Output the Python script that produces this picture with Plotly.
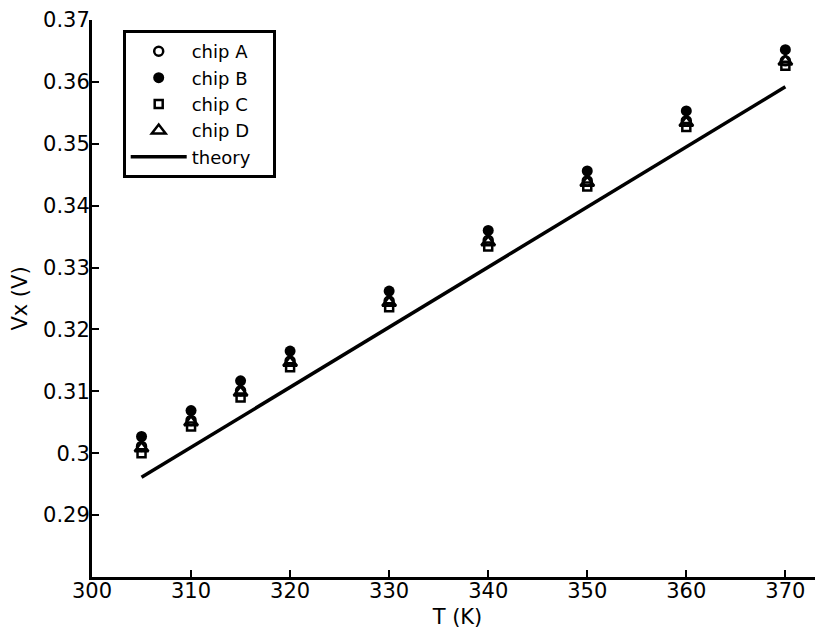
import plotly.graph_objects as go

T = [305, 310, 315, 320, 330, 340, 350, 360, 370]
chip_A = [0.3011, 0.3053, 0.3101, 0.3149, 0.3246, 0.3344, 0.3440, 0.3537, 0.3634]
chip_B = [0.3027, 0.3069, 0.3117, 0.3165, 0.3262, 0.3360, 0.3456, 0.3553, 0.3652]
chip_C = [0.3000, 0.3043, 0.3090, 0.3139, 0.3236, 0.3334, 0.3431, 0.3527, 0.3626]
chip_D = [0.3008, 0.3050, 0.3098, 0.3146, 0.3243, 0.3341, 0.3437, 0.3534, 0.3633]
T_theory = [305, 370]
V_theory = [0.2961, 0.3592]

x_ticks = [300, 310, 320, 330, 340, 350, 360, 370]
y_ticks = [0.29, 0.30, 0.31, 0.32, 0.33, 0.34, 0.35, 0.36, 0.37]
y_tick_text = ["0.29", "0.3", "0.31", "0.32", "0.33", "0.34", "0.35", "0.36", "0.37"]
series_names = ["chip A", "chip B", "chip C", "chip D", "theory"]

FONT = "DejaVu Sans, Liberation Sans, Arial, sans-serif"
FS = 21
PAD = "\u00a0\u00a0\u00a0"

fig = go.Figure()
fig.add_trace(go.Scatter(x=T, y=chip_A, mode="markers", name=series_names[0] + PAD,
                         marker=dict(symbol="circle-open", size=9, color="black",
                                     line=dict(width=2.5, color="black"))))
fig.add_trace(go.Scatter(x=T, y=chip_B, mode="markers", name=series_names[1] + PAD,
                         marker=dict(symbol="circle", size=11, color="black")))
fig.add_trace(go.Scatter(x=T, y=chip_C, mode="markers", name=series_names[2] + PAD,
                         marker=dict(symbol="square-open", size=8, color="black",
                                     line=dict(width=2.5, color="black"))))
fig.add_trace(go.Scatter(x=T, y=chip_D, mode="markers", name=series_names[3] + PAD,
                         marker=dict(symbol="triangle-up-open", size=12, color="black",
                                     line=dict(width=2.5, color="black"))))
fig.add_trace(go.Scatter(x=T_theory, y=V_theory, mode="lines", name=series_names[4] + PAD,
                         line=dict(color="black", width=3.5)))

# The page body has an 8px default margin, so the figure is sized/offset to
# land on the same screen pixels as the reference.
fig.update_layout(
    width=815, height=626,
    margin=dict(l=84, r=0, t=10, b=57),
    paper_bgcolor="white", plot_bgcolor="white",
    font=dict(family=FONT, size=FS, color="black"),
    showlegend=True,
    legend=dict(x=0.042, y=0.982, xanchor="left", yanchor="top",
                bgcolor="white", bordercolor="black", borderwidth=3,
                font=dict(family=FONT, size=18, color="black"),
                itemwidth=56),
    xaxis=dict(range=[300, 373.8], tickvals=x_ticks, ticks="inside", ticklen=7,
               tickwidth=2, tickcolor="black", showline=True, linecolor="black",
               linewidth=3, showgrid=False, zeroline=False,
               ticklabelstandoff=-7, ticklabeloverflow="allow",
               title=dict(text="T (K)", standoff=8, font=dict(size=FS)),
               tickfont=dict(size=FS)),
    yaxis=dict(range=[0.28, 0.37], tickvals=y_ticks, ticktext=y_tick_text,
               ticks="inside", ticklen=7, tickwidth=2, tickcolor="black",
               showline=True, linecolor="black", linewidth=3, showgrid=False,
               zeroline=False,
               ticklabelstandoff=-5, ticklabeloverflow="allow",
               title=dict(text="Vx (V)", standoff=10, font=dict(size=FS)),
               tickfont=dict(size=FS)),
)

fig.write_html("out.html")
